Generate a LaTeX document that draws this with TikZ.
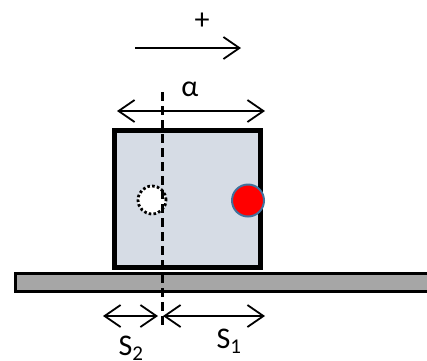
\documentclass[tikz,border=0pt]{standalone}
\usepackage{fontspec}
\setmainfont{Carlito}
\usepackage{xcolor}
\usetikzlibrary{arrows.meta}

\definecolor{boxfill}{HTML}{D6DCE5}
\definecolor{floorfill}{HTML}{A6A6A6}
\definecolor{ballline}{HTML}{41719C}

\begin{document}
\begin{tikzpicture}[x=1pt, y=-1pt,
  lbl/.style={inner sep=0pt, font=\fontsize{30pt}{32pt}\selectfont},
  dim/.style={{Straight Barb[length=16pt, width=22pt]}-{Straight Barb[length=16pt, width=22pt]}, line width=1.8pt},
  dir/.style={-{Straight Barb[length=16pt, width=22pt]}, line width=1.8pt}]
\useasboundingbox (0,0) rectangle (427,360);
% floor and block
\node[draw, line width=3pt, fill=floorfill, inner sep=0pt, minimum width=440pt, minimum height=18pt, anchor=west] (floor) at (13.5,282.5) {};
\node[draw, line width=5pt, fill=boxfill, inner sep=0pt, minimum width=146pt, minimum height=137pt] (block) at (187.5,199) {};
% marks on the block
\node[circle, draw, dash pattern=on 2.6pt off 2.2pt, line width=2.8pt, fill=white, minimum size=28pt, inner sep=0pt] (old) at (152,200) {};
\node[circle, draw=ballline, line width=2pt, fill=red, minimum size=32pt, inner sep=0pt] (mark) at (248,200.5) {};
% axis
\coordinate (axtop) at (162,92);
\coordinate (axbot) at (162,328);
\draw[dashed, dash pattern=on 9pt off 5pt, line width=3pt] (axtop) -- (axbot);
% positive direction
\coordinate (p1) at (135,48);
\coordinate (p2) at (241,48);
\draw[dir] (p1) -- (p2);
\node[lbl] (plus) at (202,21) {+};
% width alpha
\coordinate (a1) at (117,111);
\coordinate (a2) at (265,111);
\draw[dim] (a1) -- (a2);
\node[lbl] (alpha) at (190,89) {α};
% distances
\coordinate (s2a) at (103,316);
\coordinate (s2b) at (158,316);
\coordinate (s1a) at (163,316);
\coordinate (s1b) at (265,316);
\draw[dim] (s2a) -- (s2b);
\draw[dim] (s1a) -- (s1b);
\node[lbl] (sone) at (229,341) {S\textsubscript{1}};
\node[lbl] (stwo) at (131,348) {S\textsubscript{2}};
\end{tikzpicture}
\end{document}
